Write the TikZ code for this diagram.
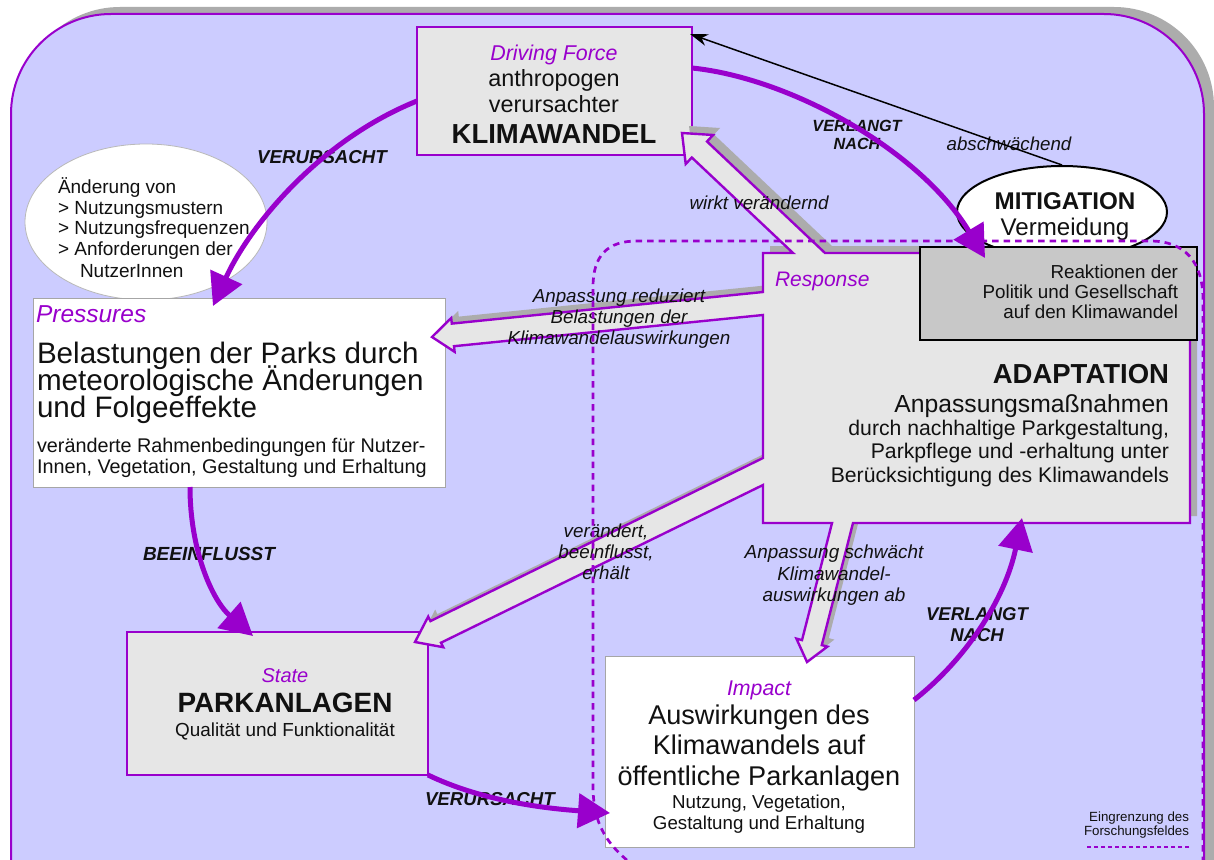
\documentclass[tikz,border=0pt]{standalone}
\usepackage{fontspec}
\setmainfont{Liberation Sans}
\usetikzlibrary{arrows.meta,calc,shapes.geometric}

\definecolor{purp}{RGB}{153,0,204}
\definecolor{lav}{RGB}{204,204,255}
\definecolor{boxgray}{RGB}{230,230,230}
\definecolor{darkbox}{RGB}{200,200,200}
\definecolor{shadowgray}{RGB}{172,172,172}
\definecolor{ink}{RGB}{17,17,17}

\newcommand\fsz[1]{\fontsize{#1}{#1}\selectfont}

\tikzset{
  body/.style={inner sep=0pt, outer sep=0pt, anchor=base, text=ink},
  ttl/.style={body, text=purp},
  pbox/.style={rectangle, draw=purp, line width=2.2pt, fill=boxgray, inner sep=0pt, outer sep=0pt},
  wbox/.style={rectangle, draw=gray!70, line width=0.8pt, fill=white, inner sep=0pt, outer sep=0pt},
  flow/.style={draw=purp, line width=5pt, -{Triangle[length=32pt,width=34pt]}},
  respshadow/.style={fill=shadowgray},
  respbody/.style={draw=purp, line width=2.4pt, fill=boxgray, line join=miter},
  field/.style={draw=purp, line width=2.7pt, dash pattern=on 6.5pt off 5pt},
  fieldkey/.style={draw=purp, line width=2pt, dash pattern=on 4.5pt off 2.5pt},
}

\begin{document}
\begin{tikzpicture}[x=1pt,y=-1pt]
\useasboundingbox (0,0) rectangle (1214,859);
\clip (0,0) rectangle (1214,859);
\fill[white] (0,0) rectangle (1214,859);

% outer frame with its shadow
\fill[shadowgray, rounded corners=100pt] (20,7) rectangle (1214,1000);
\draw[purp, line width=2pt, fill=lav, rounded corners=100pt] (11,14) rectangle (1204,1000);

% boxes
\node[ellipse, draw=gray!55, line width=0.8pt, fill=white, inner sep=0pt,
      minimum width=242pt, minimum height=156pt] (chg) at (146,222) {};
\node[pbox, minimum width=275pt, minimum height=128pt] (df) at (554.5,91) {};
\node[wbox, minimum width=412pt, minimum height=189pt] (pr) at (239,392.5) {};
\node[pbox, minimum width=301pt, minimum height=143pt] (st) at (277.5,703.5) {};
\node[wbox, minimum width=309pt, minimum height=191pt] (im) at (759.5,751.5) {};
\node[inner sep=0pt, outer sep=0pt, minimum width=427pt, minimum height=270pt] (resp) at (976.5,388) {};

% response body with its four block arrows
\foreach \dx/\dy/\sty in {7/-7/respshadow, 0/0/respbody}{
  \path[\sty, shift={(\dx,\dy)}]
    (763,253) -- (793,253) -- (691.8,157.5) -- (685.7,164) -- (682,133)
    -- (713.1,135) -- (707,141.5) -- (825,253) -- (1190,253) -- (1190,523)
    -- (853,523) -- (821.8,645.1) -- (827.4,646.6) -- (807,662) -- (796.4,638.6)
    -- (802,640.1) -- (832,523) -- (763,523) -- (763,485) -- (441,642.7)
    -- (443.2,647.2) -- (415,642) -- (428.2,616.6) -- (430.4,621.1) -- (763,458)
    -- (763,315) -- (454,346.2) -- (454.6,351.8) -- (432,337) -- (451.2,318)
    -- (451.8,323.6) -- (763,292) -- cycle;
}

\node[ellipse, draw=black, line width=2pt, fill=white, inner sep=0pt,
      minimum width=210pt, minimum height=92pt] (mi) at (1062,212) {};
\node[rectangle, draw=black, line width=2pt, fill=darkbox, inner sep=0pt, outer sep=0pt,
      minimum width=277pt, minimum height=93pt] (re) at (1058.5,293.5) {};

% Driving Force
\node[ttl, font={\fsz{21.4}\itshape}] (dfT) at (554,60) {Driving Force};
\node[body, font=\fsz{23.4}] (dfA) at (554,86) {anthropogen};
\node[body, font=\fsz{23.4}] (dfB) at (554,112) {verursachter};
\node[body, font={\fsz{27.5}\bfseries}] (dfC) at (554,143) {KLIMAWANDEL};

% changes of use
\node[body, anchor=base west, font=\fsz{19}] (chg1) at (58,193) {Änderung von};
\node[body, anchor=base west, font=\fsz{19}] (chg2) at (58,214) {> Nutzungsmustern};
\node[body, anchor=base west, font=\fsz{19}] (chg3) at (58,234) {> Nutzungsfrequenzen};
\node[body, anchor=base west, font=\fsz{19}] (chg4) at (58,255) {> Anforderungen der};
\node[body, anchor=base west, font=\fsz{19}] (chg5) at (80,277) {NutzerInnen};

% Pressures
\node[ttl, anchor=base west, font={\fsz{24.5}\itshape}] (prT) at (36,322) {Pressures};
\node[body, anchor=base west, font=\fsz{29.6}] (prA) at (37,363) {Belastungen der Parks durch};
\node[body, anchor=base west, font=\fsz{29.6}] (prB) at (37,390) {meteorologische Änderungen};
\node[body, anchor=base west, font=\fsz{29.6}] (prC) at (37,417) {und Folgeeffekte};
\node[body, anchor=base west, font=\fsz{19.8}] (prD) at (37,452) {veränderte Rahmenbedingungen für Nutzer-};
\node[body, anchor=base west, font=\fsz{19.8}] (prE) at (37,473) {Innen, Vegetation, Gestaltung und Erhaltung};

% State
\node[ttl, font={\fsz{20}\itshape}] (stT) at (285,682) {State};
\node[body, font={\fsz{27.9}\bfseries}] (stA) at (285,712) {PARKANLAGEN};
\node[body, font=\fsz{18.9}] (stB) at (285,736) {Qualität und Funktionalität};

% Impact
\node[ttl, font={\fsz{21.3}\itshape}] (imT) at (759,695) {Impact};
\node[body, font=\fsz{27.1}] (imA) at (759,724) {Auswirkungen des};
\node[body, font=\fsz{27.1}] (imB) at (759,754) {Klimawandels auf};
\node[body, font=\fsz{27.1}] (imC) at (759,785) {öffentliche Parkanlagen};
\node[body, font=\fsz{18.7}] (imD) at (759,808) {Nutzung, Vegetation,};
\node[body, font=\fsz{18.7}] (imE) at (759,829) {Gestaltung und Erhaltung};

% Response
\node[ttl, anchor=base west, font={\fsz{21}\itshape}] (reT) at (775,286) {Response};
\node[body, anchor=base east, font={\fsz{27.5}\bfseries}] (adA) at (1169,383) {ADAPTATION};
\node[body, anchor=base east, font=\fsz{24.7}] (adB) at (1169,412) {Anpassungsmaßnahmen};
\node[body, anchor=base east, font=\fsz{21.2}] (adC) at (1169,435) {durch nachhaltige Parkgestaltung,};
\node[body, anchor=base east, font=\fsz{21.2}] (adD) at (1169,458) {Parkpflege und -erhaltung unter};
\node[body, anchor=base east, font=\fsz{21.2}] (adE) at (1169,482) {Berücksichtigung des Klimawandels};
\node[body, anchor=base east, font=\fsz{18.8}] (reA) at (1178,278) {Reaktionen der};
\node[body, anchor=base east, font=\fsz{18.8}] (reB) at (1178,298) {Politik und Gesellschaft};
\node[body, anchor=base east, font=\fsz{18.8}] (reC) at (1178,318) {auf den Klimawandel};

% Mitigation
\node[body, font={\fsz{24.2}\bfseries}] (miA) at (1065,209) {MITIGATION};
\node[body, font=\fsz{24.1}] (miB) at (1065,235) {Vermeidung};

% labels on the block arrows
\node[body, font={\fsz{18.8}\itshape}] (lw) at (759,209) {wirkt verändernd};
\node[body, font={\fsz{18.8}\itshape}] (lpA) at (619,302) {Anpassung reduziert};
\node[body, font={\fsz{18.8}\itshape}] (lpB) at (619,323) {Belastungen der};
\node[body, font={\fsz{18.8}\itshape}] (lpC) at (619,344) {Klimawandelauswirkungen};
\node[body, font={\fsz{18.8}\itshape}] (lsA) at (606,537) {verändert,};
\node[body, font={\fsz{18.8}\itshape}] (lsB) at (606,558) {beeinflusst,};
\node[body, font={\fsz{18.8}\itshape}] (lsC) at (606,579) {erhält};
\node[body, font={\fsz{18.9}\itshape}] (liA) at (834,558) {Anpassung schwächt};
\node[body, font={\fsz{18.9}\itshape}] (liB) at (834,580) {Klimawandel-};
\node[body, font={\fsz{18.9}\itshape}] (liC) at (834,601) {auswirkungen ab};

% labels on the flow arrows
\node[body, font={\fsz{18.7}\itshape}] (lab) at (1009,150) {abschwächend};
\node[body, font={\fsz{18.7}\bfseries\itshape}] (lv1) at (322,163) {VERURSACHT};
\node[body, font={\fsz{16.2}\bfseries\itshape}] (ln1a) at (857,131) {VERLANGT};
\node[body, font={\fsz{16.2}\bfseries\itshape}] (ln1b) at (857,149) {NACH};
\node[body, font={\fsz{19}\bfseries\itshape}] (lbe) at (209,560) {BEEINFLUSST};
\node[body, anchor=base west, font={\fsz{18.7}\bfseries\itshape}] (lv2) at (425,805) {VERURSACHT};
\node[body, font={\fsz{18.5}\bfseries\itshape}] (ln2a) at (977,620) {VERLANGT};
\node[body, font={\fsz{18.5}\bfseries\itshape}] (ln2b) at (977,641) {NACH};

% flow arrows
\draw[flow] ($(df.west)+(0,10)$) .. controls (320,140) and (250,225) .. ($(pr.north west)+(180,8)$);
\draw[flow] ($(df.east)+(0,-23)$) .. controls (790,78) and (920,150) .. ($(re.north west)+(65,11)$);
\draw[flow] ($(pr.south west)+(157,0)$) .. controls (190,550) and (212,600) .. ($(st.north west)+(126,4)$);
\draw[flow] (st.south east) .. controls (480,800) and (540,808) .. ($(im.north west)+(5,157)$);
\draw[flow] ($(im.north east)+(0,44)$) .. controls (965,660) and (1005,600) .. ($(resp.south west)+(259,-5)$);
\draw[black, line width=1.5pt, -{Stealth[length=18pt,width=12pt]}] (mi.north) -- ($(df.north east)+(-2,7)$);

% boundary of the research field
\draw[field] (655,880) .. controls (606,850) and (593,825) .. (593,785) -- (593,287)
  .. controls (593,256) and (607,241) .. (637,241) -- (1150,241)
  .. controls (1185,241) and (1203,262) .. (1203,300) -- (1203,880);

% key
\node[body, anchor=base east, font=\fsz{13.3}] (lg1) at (1189,821) {Eingrenzung des};
\node[body, anchor=base east, font=\fsz{13.3}] (lg2) at (1189,835) {Forschungsfeldes};
\draw[fieldkey] ($(lg2.base east)+(0,12)$) -- ($(lg2.base east)+(-104,12)$);
\end{tikzpicture}
\end{document}
